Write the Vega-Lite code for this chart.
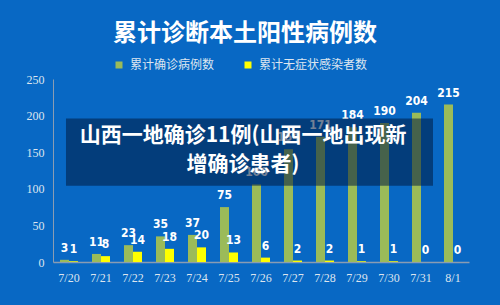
{
  "$schema": "https://vega.github.io/schema/vega-lite/v6.json",
  "width": 416,
  "height": 183,
  "autosize": "none",
  "padding": {"left": 53, "top": 79, "right": 31, "bottom": 43},
  "background": "#0868c4",
  "config": {
    "view": {"stroke": null},
    "font": "Noto Sans CJK SC",
    "axisY": {
      "labelOverlap": false,
      "labelFont": "Liberation Serif",
      "labelFontSize": 12,
      "labelColor": "#dde5ef",
      "labelPadding": 9,
      "ticks": false,
      "grid": false,
      "domainColor": "#8a9cb2",
      "domainWidth": 1,
      "title": null
    },
    "axisX": {
      "labelAngle": 0,
      "labelFont": "Liberation Serif",
      "labelFontSize": 12,
      "labelColor": "#dde5ef",
      "labelPadding": 10,
      "ticks": false,
      "domainColor": "#8a9cb2",
      "domainWidth": 1.5,
      "title": null
    }
  },
  "title": {
    "text": "累计诊断本土阳性病例数",
    "color": "#ffffff",
    "fontSize": 24,
    "fontWeight": "bold",
    "font": "Noto Sans CJK SC",
    "anchor": "middle",
    "offset": 13,
    "dx": -16
  },
  "datasets": {
    "cases": [
      {"date": "7/20", "series": "累计确诊病例数", "value": 3},
      {"date": "7/20", "series": "累计无症状感染者数", "value": 1},
      {"date": "7/21", "series": "累计确诊病例数", "value": 11},
      {"date": "7/21", "series": "累计无症状感染者数", "value": 8},
      {"date": "7/22", "series": "累计确诊病例数", "value": 23},
      {"date": "7/22", "series": "累计无症状感染者数", "value": 14},
      {"date": "7/23", "series": "累计确诊病例数", "value": 35},
      {"date": "7/23", "series": "累计无症状感染者数", "value": 18},
      {"date": "7/24", "series": "累计确诊病例数", "value": 37},
      {"date": "7/24", "series": "累计无症状感染者数", "value": 20},
      {"date": "7/25", "series": "累计确诊病例数", "value": 75},
      {"date": "7/25", "series": "累计无症状感染者数", "value": 13},
      {"date": "7/26", "series": "累计确诊病例数", "value": 106},
      {"date": "7/26", "series": "累计无症状感染者数", "value": 6},
      {"date": "7/27", "series": "累计确诊病例数", "value": 154},
      {"date": "7/27", "series": "累计无症状感染者数", "value": 2},
      {"date": "7/28", "series": "累计确诊病例数", "value": 171},
      {"date": "7/28", "series": "累计无症状感染者数", "value": 2},
      {"date": "7/29", "series": "累计确诊病例数", "value": 184},
      {"date": "7/29", "series": "累计无症状感染者数", "value": 1},
      {"date": "7/30", "series": "累计确诊病例数", "value": 190},
      {"date": "7/30", "series": "累计无症状感染者数", "value": 1},
      {"date": "7/31", "series": "累计确诊病例数", "value": 204},
      {"date": "7/31", "series": "累计无症状感染者数", "value": 0},
      {"date": "8/1", "series": "累计确诊病例数", "value": 215},
      {"date": "8/1", "series": "累计无症状感染者数", "value": 0}
    ],
    "box": [{"top": 196, "bottom": 104}],
    "note": [
      {"line": "山西一地确诊11例(山西一地出现新", "pos": 171.5},
      {"line": "增确诊患者)", "pos": 133}
    ]
  },
  "layer": [
    {
      "data": {"name": "cases"},
      "mark": {"type": "bar"},
      "encoding": {
        "x": {
          "field": "date",
          "type": "nominal",
          "sort": null,
          "scale": {"paddingInner": 0.4375, "paddingOuter": 0.21875}
        },
        "xOffset": {
          "field": "series",
          "type": "nominal",
          "sort": ["累计确诊病例数", "累计无症状感染者数"],
          "scale": {"paddingInner": 0, "paddingOuter": 0}
        },
        "y": {
          "field": "value",
          "type": "quantitative",
          "scale": {"domain": [0, 250], "nice": false},
          "axis": {"values": [0, 50, 100, 150, 200, 250], "labelOverlap": false}
        },
        "color": {
          "field": "series",
          "type": "nominal",
          "scale": {"domain": ["累计确诊病例数", "累计无症状感染者数"], "range": ["#9bbb59", "#ffff00"]},
          "legend": {
            "title": null,
            "orient": "none",
            "legendX": 60,
            "legendY": -20,
            "direction": "horizontal",
            "symbolType": "square",
            "symbolSize": 49,
            "symbolStrokeWidth": 0,
            "labelFontSize": 12,
            "labelFont": "Noto Sans CJK SC",
            "labelColor": "#dde6f0",
            "labelOffset": 5,
            "columnPadding": 27,
            "padding": 0
          }
        }
      }
    },
    {
      "data": {"name": "cases"},
      "mark": {"type": "text", "baseline": "bottom", "dy": -5, "font": "Liberation Sans Narrow, DejaVu Sans Condensed, Liberation Sans", "fontWeight": "bold", "fontSize": 12, "color": "#ffffff"},
      "encoding": {
        "x": {"field": "date", "type": "nominal", "sort": null},
        "xOffset": {"field": "series", "type": "nominal", "sort": ["累计确诊病例数", "累计无症状感染者数"]},
        "y": {"field": "value", "type": "quantitative", "axis": {"values": [0, 50, 100, 150, 200, 250], "labelOverlap": false}},
        "text": {"field": "value", "type": "quantitative"}
      }
    },
    {
      "data": {"name": "box"},
      "mark": {"type": "rect", "color": "#001a40", "opacity": 0.55},
      "encoding": {
        "x": {"datum": "7/20", "bandPosition": 0.333},
        "x2": {"datum": "7/31", "bandPosition": 1.1667},
        "y": {"field": "top", "type": "quantitative", "axis": {"values": [0, 50, 100, 150, 200, 250], "labelOverlap": false}},
        "y2": {"field": "bottom"}
      }
    },
    {
      "data": {"name": "note"},
      "mark": {"type": "text", "baseline": "middle", "align": "center", "font": "Noto Sans CJK SC", "fontWeight": "bold", "fontSize": 21, "color": "#ffffff"},
      "encoding": {
        "x": {"datum": "7/25", "bandPosition": 1.28},
        "y": {"field": "pos", "type": "quantitative", "axis": {"values": [0, 50, 100, 150, 200, 250], "labelOverlap": false}},
        "text": {"field": "line", "type": "nominal"}
      }
    }
  ]
}
